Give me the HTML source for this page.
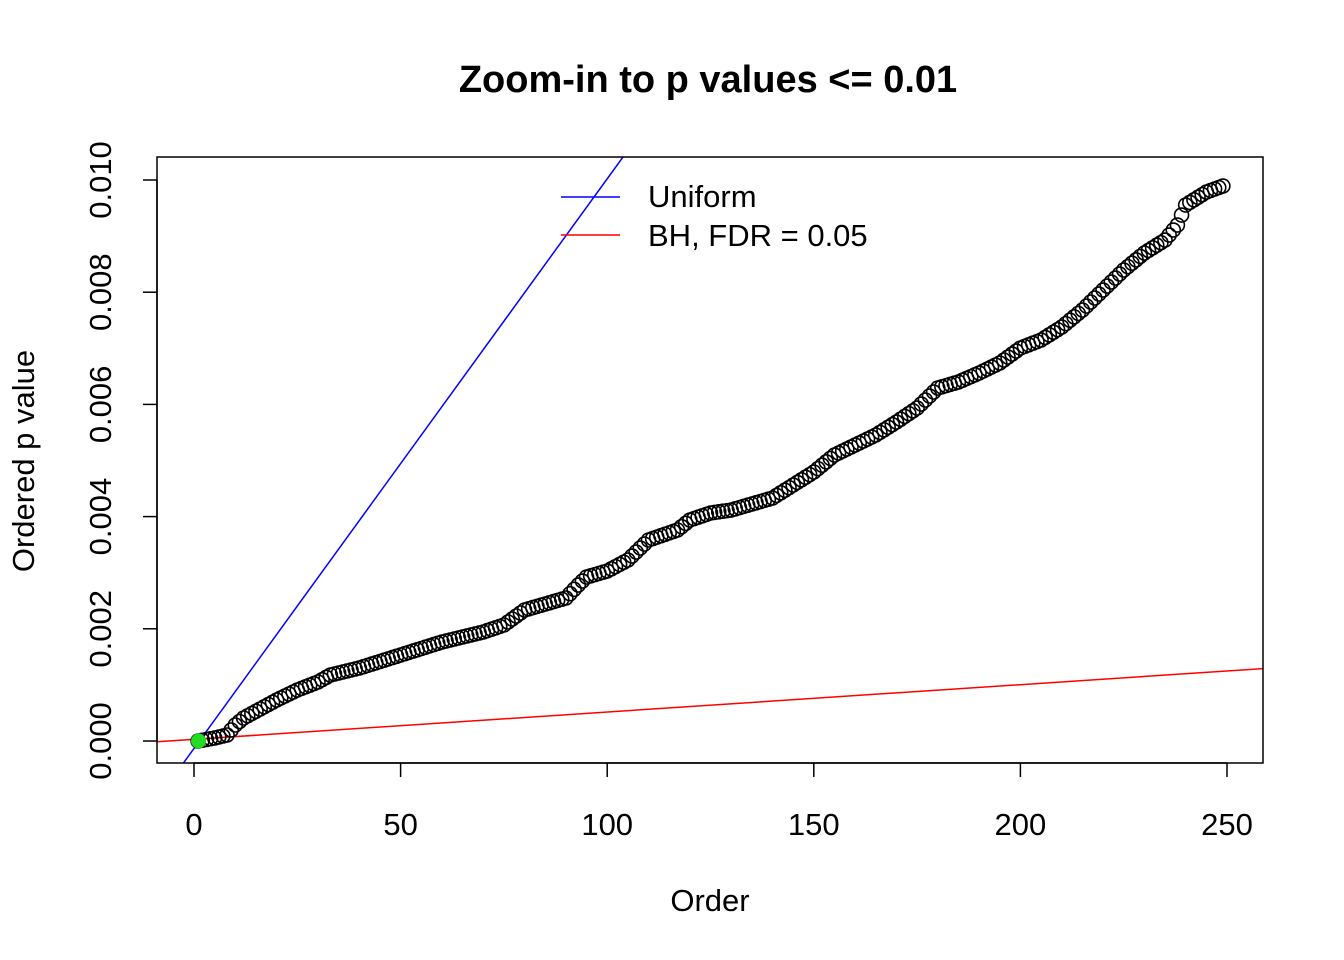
<!DOCTYPE html>
<html><head><meta charset="utf-8"><style>body{margin:0;background:#fff}svg{display:block}text{font-family:"Liberation Sans",Arial,sans-serif}</style></head>
<body>
<svg width="1344" height="960" xmlns="http://www.w3.org/2000/svg">
<defs>
<marker id="m" markerUnits="userSpaceOnUse" markerWidth="24" markerHeight="24" refX="12" refY="12" overflow="visible">
<circle cx="12" cy="12" r="7" fill="none" stroke="#000" stroke-width="1.6"/>
</marker>
<clipPath id="c"><rect x="157" y="157" width="1106" height="606"/></clipPath>
</defs>
<text x="708" y="92" text-anchor="middle" font-size="38" font-weight="bold">Zoom-in to p values &lt;= 0.01</text>
<g clip-path="url(#c)">
<line x1="173.3" y1="777" x2="623" y2="157" stroke="#0000ff" stroke-width="1.5"/>
<line x1="157" y1="741.8" x2="1263" y2="668.6" stroke="#ff0000" stroke-width="1.5"/>
<path fill="none" stroke="none" marker-start="url(#m)" marker-mid="url(#m)" marker-end="url(#m)" d="M198.132,741
l4.132,-0.75 4.132,-0.75 4.132,-0.75 4.132,-0.75
4.132,-1 4.132,-1 4.132,-1
4.132,-5 4.132,-5
4.132,-3.5 4.132,-3.5
4.132,-2.25 4.132,-2.25 4.132,-2.25 4.132,-2.25 4.132,-2.25 4.132,-2.25 4.132,-2.25 4.132,-2.25
4.132,-2 4.132,-2 4.132,-2 4.132,-2 4.132,-2
4.132,-1.6 4.132,-1.6 4.132,-1.6 4.132,-1.6 4.132,-1.6
4.132,-2.33 4.132,-2.33 4.132,-2.33
4.132,-1 4.132,-1 4.132,-1 4.132,-1 4.132,-1 4.132,-1 4.132,-1
4.132,-1.3 4.132,-1.3 4.132,-1.3 4.132,-1.3 4.132,-1.3 4.132,-1.3 4.132,-1.3 4.132,-1.3 4.132,-1.3 4.132,-1.3
4.132,-1.3 4.132,-1.3 4.132,-1.3 4.132,-1.3 4.132,-1.3 4.132,-1.3 4.132,-1.3 4.132,-1.3 4.132,-1.3 4.132,-1.3
4.132,-1 4.132,-1 4.132,-1 4.132,-1 4.132,-1 4.132,-1 4.132,-1 4.132,-1 4.132,-1 4.132,-1
4.132,-1.4 4.132,-1.4 4.132,-1.4 4.132,-1.4 4.132,-1.4
4.132,-3 4.132,-3 4.132,-3 4.132,-3 4.132,-3
4.132,-1.2 4.132,-1.2 4.132,-1.2 4.132,-1.2 4.132,-1.2 4.132,-1.2 4.132,-1.2 4.132,-1.2 4.132,-1.2 4.132,-1.2
4.132,-4.33 4.132,-4.33 4.132,-4.33
4.132,-4 4.132,-4
4.132,-1.2 4.132,-1.2 4.132,-1.2 4.132,-1.2 4.132,-1.2
4.132,-2.2 4.132,-2.2 4.132,-2.2 4.132,-2.2 4.132,-2.2
4.132,-4 4.132,-4 4.132,-4 4.132,-4 4.132,-4
4.132,-1.43 4.132,-1.43 4.132,-1.43 4.132,-1.43 4.132,-1.43 4.132,-1.43 4.132,-1.43
4.132,-3.33 4.132,-3.33 4.132,-3.33
4.132,-1.4 4.132,-1.4 4.132,-1.4 4.132,-1.4 4.132,-1.4
4.132,-0.6 4.132,-0.6 4.132,-0.6 4.132,-0.6 4.132,-0.6
4.132,-1.2 4.132,-1.2 4.132,-1.2 4.132,-1.2 4.132,-1.2 4.132,-1.2 4.132,-1.2 4.132,-1.2 4.132,-1.2 4.132,-1.2
4.132,-2.6 4.132,-2.6 4.132,-2.6 4.132,-2.6 4.132,-2.6
4.132,-2.6 4.132,-2.6 4.132,-2.6 4.132,-2.6 4.132,-2.6
4.132,-3.4 4.132,-3.4 4.132,-3.4 4.132,-3.4 4.132,-3.4
4.132,-2 4.132,-2 4.132,-2 4.132,-2 4.132,-2
4.132,-2 4.132,-2 4.132,-2 4.132,-2 4.132,-2
4.132,-2.6 4.132,-2.6 4.132,-2.6 4.132,-2.6 4.132,-2.6
4.132,-2.8 4.132,-2.8 4.132,-2.8 4.132,-2.8 4.132,-2.8
4.132,-4 4.132,-4 4.132,-4 4.132,-4 4.132,-4
4.132,-1.2 4.132,-1.2 4.132,-1.2 4.132,-1.2 4.132,-1.2
4.132,-1.8 4.132,-1.8 4.132,-1.8 4.132,-1.8 4.132,-1.8
4.132,-2 4.132,-2 4.132,-2 4.132,-2 4.132,-2
4.132,-3 4.132,-3 4.132,-3 4.132,-3 4.132,-3
4.132,-1.6 4.132,-1.6 4.132,-1.6 4.132,-1.6 4.132,-1.6
4.132,-2.6 4.132,-2.6 4.132,-2.6 4.132,-2.6 4.132,-2.6
4.132,-3.4 4.132,-3.4 4.132,-3.4 4.132,-3.4 4.132,-3.4
4.132,-4 4.132,-4 4.132,-4 4.132,-4 4.132,-4
4.132,-4 4.132,-4 4.132,-4 4.132,-4 4.132,-4
4.132,-3.4 4.132,-3.4 4.132,-3.4 4.132,-3.4 4.132,-3.4
4.132,-2.6 4.132,-2.6 4.132,-2.6 4.132,-2.6 4.132,-2.6
4.132,-5 4.132,-5 4.132,-5
4.132,-10 4.132,-10
4.132,-2.6 4.132,-2.6 4.132,-2.6 4.132,-2.6 4.132,-2.6
4.132,-1.5 4.132,-1.5 4.132,-1.5 4.132,-1.5"/>
<circle cx="198.5" cy="741" r="7.5" fill="#22dd22"/>
</g>
<rect x="157" y="157" width="1106" height="606" fill="none" stroke="#000" stroke-width="1.5"/>
<g stroke="#000" stroke-width="1.5">
<line x1="194" y1="763" x2="1227" y2="763"/>
<line x1="194" y1="763" x2="194" y2="777"/><line x1="400.6" y1="763" x2="400.6" y2="777"/><line x1="607.2" y1="763" x2="607.2" y2="777"/><line x1="813.8" y1="763" x2="813.8" y2="777"/><line x1="1020.4" y1="763" x2="1020.4" y2="777"/><line x1="1227" y1="763" x2="1227" y2="777"/>
<line x1="157" y1="180" x2="157" y2="741"/>
<line x1="143" y1="741" x2="157" y2="741"/><line x1="143" y1="628.8" x2="157" y2="628.8"/><line x1="143" y1="516.6" x2="157" y2="516.6"/><line x1="143" y1="404.4" x2="157" y2="404.4"/><line x1="143" y1="292.2" x2="157" y2="292.2"/><line x1="143" y1="180" x2="157" y2="180"/>
</g>
<g font-size="31" text-anchor="middle">
<text x="194" y="835">0</text><text x="400.6" y="835">50</text><text x="607.2" y="835">100</text><text x="813.8" y="835">150</text><text x="1020.4" y="835">200</text><text x="1227" y="835">250</text>
<text transform="translate(111,741) rotate(-90)">0.000</text>
<text transform="translate(111,628.8) rotate(-90)">0.002</text>
<text transform="translate(111,516.6) rotate(-90)">0.004</text>
<text transform="translate(111,404.4) rotate(-90)">0.006</text>
<text transform="translate(111,292.2) rotate(-90)">0.008</text>
<text transform="translate(111,180) rotate(-90)">0.010</text>
<text x="710" y="911">Order</text>
<text transform="translate(34,461) rotate(-90)">Ordered p value</text>
</g>
<line x1="561" y1="197" x2="620" y2="197" stroke="#0000ff" stroke-width="1.5"/>
<line x1="561" y1="235" x2="620" y2="235" stroke="#ff0000" stroke-width="1.5"/>
<text x="648" y="207" font-size="31">Uniform</text>
<text x="648" y="246" font-size="31">BH, FDR = 0.05</text>
</svg>
</body></html>
